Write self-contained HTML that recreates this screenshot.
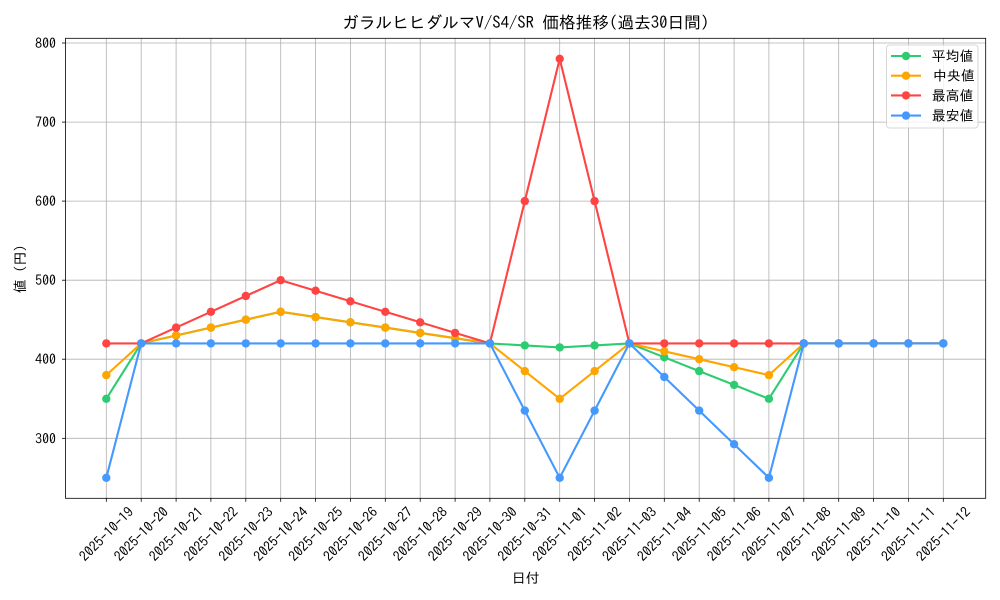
<!DOCTYPE html>
<html><head><meta charset="utf-8"><style>
html,body{margin:0;padding:0;background:#fff;}
svg{display:block;}
text{font-family:"IPAGothic","Liberation Sans","Noto Sans CJK JP",sans-serif;fill:#000;}
</style></head><body>
<svg width="1000" height="600" viewBox="0 0 1000 600" xmlns="http://www.w3.org/2000/svg">
<defs>
<marker id="mg" markerUnits="userSpaceOnUse" markerWidth="10" markerHeight="10" refX="5" refY="5"><circle cx="5" cy="5" r="4.2" fill="#2ecc71"/></marker>
<marker id="mo" markerUnits="userSpaceOnUse" markerWidth="10" markerHeight="10" refX="5" refY="5"><circle cx="5" cy="5" r="4.2" fill="#ffa500"/></marker>
<marker id="mr" markerUnits="userSpaceOnUse" markerWidth="10" markerHeight="10" refX="5" refY="5"><circle cx="5" cy="5" r="4.2" fill="#ff4444"/></marker>
<marker id="mb" markerUnits="userSpaceOnUse" markerWidth="10" markerHeight="10" refX="5" refY="5"><circle cx="5" cy="5" r="4.2" fill="#4499ff"/></marker>
</defs>
<rect width="1000" height="600" fill="#fff"/>
<!-- grid -->
<g stroke="#b0b0b0" stroke-width="0.8">
<line x1="106.3" y1="38.3" x2="106.3" y2="498.3"/>
<line x1="141.2" y1="38.3" x2="141.2" y2="498.3"/>
<line x1="176.1" y1="38.3" x2="176.1" y2="498.3"/>
<line x1="210.9" y1="38.3" x2="210.9" y2="498.3"/>
<line x1="245.8" y1="38.3" x2="245.8" y2="498.3"/>
<line x1="280.7" y1="38.3" x2="280.7" y2="498.3"/>
<line x1="315.6" y1="38.3" x2="315.6" y2="498.3"/>
<line x1="350.4" y1="38.3" x2="350.4" y2="498.3"/>
<line x1="385.3" y1="38.3" x2="385.3" y2="498.3"/>
<line x1="420.2" y1="38.3" x2="420.2" y2="498.3"/>
<line x1="455.1" y1="38.3" x2="455.1" y2="498.3"/>
<line x1="489.9" y1="38.3" x2="489.9" y2="498.3"/>
<line x1="524.8" y1="38.3" x2="524.8" y2="498.3"/>
<line x1="559.7" y1="38.3" x2="559.7" y2="498.3"/>
<line x1="594.6" y1="38.3" x2="594.6" y2="498.3"/>
<line x1="629.4" y1="38.3" x2="629.4" y2="498.3"/>
<line x1="664.3" y1="38.3" x2="664.3" y2="498.3"/>
<line x1="699.2" y1="38.3" x2="699.2" y2="498.3"/>
<line x1="734.1" y1="38.3" x2="734.1" y2="498.3"/>
<line x1="768.9" y1="38.3" x2="768.9" y2="498.3"/>
<line x1="803.8" y1="38.3" x2="803.8" y2="498.3"/>
<line x1="838.7" y1="38.3" x2="838.7" y2="498.3"/>
<line x1="873.6" y1="38.3" x2="873.6" y2="498.3"/>
<line x1="908.4" y1="38.3" x2="908.4" y2="498.3"/>
<line x1="943.3" y1="38.3" x2="943.3" y2="498.3"/>
<line x1="65.5" y1="438.3" x2="985.7" y2="438.3"/>
<line x1="65.5" y1="359.2" x2="985.7" y2="359.2"/>
<line x1="65.5" y1="280.2" x2="985.7" y2="280.2"/>
<line x1="65.5" y1="201.1" x2="985.7" y2="201.1"/>
<line x1="65.5" y1="122.1" x2="985.7" y2="122.1"/>
<line x1="65.5" y1="43.0" x2="985.7" y2="43.0"/>
</g>
<!-- series -->
<g fill="none" stroke-width="2.1" stroke-linejoin="round">
<polyline stroke="#2ecc71" marker-start="url(#mg)" marker-mid="url(#mg)" marker-end="url(#mg)" points="106.3,398.8 141.2,343.4 176.1,335.5 210.9,327.6 245.8,319.7 280.7,311.8 315.6,317.1 350.4,322.3 385.3,327.6 420.2,332.9 455.1,338.2 489.9,343.4 524.8,345.4 559.7,347.4 594.6,345.4 629.4,343.4 664.3,357.3 699.2,371.1 734.1,384.9 768.9,398.8 803.8,343.4 838.7,343.4 873.6,343.4 908.4,343.4 943.3,343.4"/>
<polyline stroke="#ffa500" marker-start="url(#mo)" marker-mid="url(#mo)" marker-end="url(#mo)" points="106.3,375.1 141.2,343.4 176.1,335.5 210.9,327.6 245.8,319.7 280.7,311.8 315.6,317.1 350.4,322.3 385.3,327.6 420.2,332.9 455.1,338.2 489.9,343.4 524.8,371.1 559.7,398.8 594.6,371.1 629.4,343.4 664.3,351.3 699.2,359.2 734.1,367.2 768.9,375.1 803.8,343.4 838.7,343.4 873.6,343.4 908.4,343.4 943.3,343.4"/>
<polyline stroke="#ff4444" marker-start="url(#mr)" marker-mid="url(#mr)" marker-end="url(#mr)" points="106.3,343.4 141.2,343.4 176.1,327.6 210.9,311.8 245.8,296.0 280.7,280.2 315.6,290.7 350.4,301.3 385.3,311.8 420.2,322.3 455.1,332.9 489.9,343.4 524.8,201.1 559.7,58.8 594.6,201.1 629.4,343.4 664.3,343.4 699.2,343.4 734.1,343.4 768.9,343.4 803.8,343.4 838.7,343.4 873.6,343.4 908.4,343.4 943.3,343.4"/>
<polyline stroke="#4499ff" marker-start="url(#mb)" marker-mid="url(#mb)" marker-end="url(#mb)" points="106.3,477.8 141.2,343.4 176.1,343.4 210.9,343.4 245.8,343.4 280.7,343.4 315.6,343.4 350.4,343.4 385.3,343.4 420.2,343.4 455.1,343.4 489.9,343.4 524.8,410.6 559.7,477.8 594.6,410.6 629.4,343.4 664.3,377.0 699.2,410.6 734.1,444.2 768.9,477.8 803.8,343.4 838.7,343.4 873.6,343.4 908.4,343.4 943.3,343.4"/>
</g>
<!-- axes frame -->
<rect x="65.5" y="38.3" width="920.2" height="460" fill="none" stroke="#000" stroke-width="0.8"/>
<!-- ticks -->
<g stroke="#000" stroke-width="0.8">
<line x1="62" y1="438.3" x2="65.5" y2="438.3"/>
<line x1="62" y1="359.2" x2="65.5" y2="359.2"/>
<line x1="62" y1="280.2" x2="65.5" y2="280.2"/>
<line x1="62" y1="201.1" x2="65.5" y2="201.1"/>
<line x1="62" y1="122.1" x2="65.5" y2="122.1"/>
<line x1="62" y1="43.0" x2="65.5" y2="43.0"/>
<line x1="106.3" y1="498.3" x2="106.3" y2="501.8"/>
<line x1="141.2" y1="498.3" x2="141.2" y2="501.8"/>
<line x1="176.1" y1="498.3" x2="176.1" y2="501.8"/>
<line x1="210.9" y1="498.3" x2="210.9" y2="501.8"/>
<line x1="245.8" y1="498.3" x2="245.8" y2="501.8"/>
<line x1="280.7" y1="498.3" x2="280.7" y2="501.8"/>
<line x1="315.6" y1="498.3" x2="315.6" y2="501.8"/>
<line x1="350.4" y1="498.3" x2="350.4" y2="501.8"/>
<line x1="385.3" y1="498.3" x2="385.3" y2="501.8"/>
<line x1="420.2" y1="498.3" x2="420.2" y2="501.8"/>
<line x1="455.1" y1="498.3" x2="455.1" y2="501.8"/>
<line x1="489.9" y1="498.3" x2="489.9" y2="501.8"/>
<line x1="524.8" y1="498.3" x2="524.8" y2="501.8"/>
<line x1="559.7" y1="498.3" x2="559.7" y2="501.8"/>
<line x1="594.6" y1="498.3" x2="594.6" y2="501.8"/>
<line x1="629.4" y1="498.3" x2="629.4" y2="501.8"/>
<line x1="664.3" y1="498.3" x2="664.3" y2="501.8"/>
<line x1="699.2" y1="498.3" x2="699.2" y2="501.8"/>
<line x1="734.1" y1="498.3" x2="734.1" y2="501.8"/>
<line x1="768.9" y1="498.3" x2="768.9" y2="501.8"/>
<line x1="803.8" y1="498.3" x2="803.8" y2="501.8"/>
<line x1="838.7" y1="498.3" x2="838.7" y2="501.8"/>
<line x1="873.6" y1="498.3" x2="873.6" y2="501.8"/>
<line x1="908.4" y1="498.3" x2="908.4" y2="501.8"/>
<line x1="943.3" y1="498.3" x2="943.3" y2="501.8"/>
</g>
<!-- y tick labels -->
<g font-size="13.9" text-anchor="end" dominant-baseline="central">
<text x="56" y="438.3">300</text>
<text x="56" y="359.2">400</text>
<text x="56" y="280.2">500</text>
<text x="56" y="201.1">600</text>
<text x="56" y="122.1">700</text>
<text x="56" y="43.0">800</text>
</g>
<!-- x tick labels -->
<g font-size="13.9" text-anchor="middle" dominant-baseline="central">
<text transform="translate(106.3,534) rotate(-45)">2025-10-19</text>
<text transform="translate(141.2,534) rotate(-45)">2025-10-20</text>
<text transform="translate(176.1,534) rotate(-45)">2025-10-21</text>
<text transform="translate(210.9,534) rotate(-45)">2025-10-22</text>
<text transform="translate(245.8,534) rotate(-45)">2025-10-23</text>
<text transform="translate(280.7,534) rotate(-45)">2025-10-24</text>
<text transform="translate(315.6,534) rotate(-45)">2025-10-25</text>
<text transform="translate(350.4,534) rotate(-45)">2025-10-26</text>
<text transform="translate(385.3,534) rotate(-45)">2025-10-27</text>
<text transform="translate(420.2,534) rotate(-45)">2025-10-28</text>
<text transform="translate(455.1,534) rotate(-45)">2025-10-29</text>
<text transform="translate(489.9,534) rotate(-45)">2025-10-30</text>
<text transform="translate(524.8,534) rotate(-45)">2025-10-31</text>
<text transform="translate(559.7,534) rotate(-45)">2025-11-01</text>
<text transform="translate(594.6,534) rotate(-45)">2025-11-02</text>
<text transform="translate(629.4,534) rotate(-45)">2025-11-03</text>
<text transform="translate(664.3,534) rotate(-45)">2025-11-04</text>
<text transform="translate(699.2,534) rotate(-45)">2025-11-05</text>
<text transform="translate(734.1,534) rotate(-45)">2025-11-06</text>
<text transform="translate(768.9,534) rotate(-45)">2025-11-07</text>
<text transform="translate(803.8,534) rotate(-45)">2025-11-08</text>
<text transform="translate(838.7,534) rotate(-45)">2025-11-09</text>
<text transform="translate(873.6,534) rotate(-45)">2025-11-10</text>
<text transform="translate(908.4,534) rotate(-45)">2025-11-11</text>
<text transform="translate(943.3,534) rotate(-45)">2025-11-12</text>
</g>
<!-- titles -->
<text x="525.6" y="23" font-size="16.7" text-anchor="middle" dominant-baseline="central">ガラルヒヒダルマV/S4/SR 価格推移(過去30日間)</text>
<text x="525.7" y="578" font-size="13.9" text-anchor="middle" dominant-baseline="central">日付</text>
<text transform="translate(20,269) rotate(-90)" font-size="13.9" text-anchor="middle" dominant-baseline="central">値 (円)</text>
<!-- legend -->
<rect x="886.5" y="45" width="91.5" height="83" rx="3" ry="3" fill="#fff" fill-opacity="0.8" stroke="#cccccc" stroke-width="0.8"/>
<g stroke-width="2.1">
<line x1="891" y1="56" x2="921" y2="56" stroke="#2ecc71"/>
<circle cx="906" cy="56" r="4.2" fill="#2ecc71" stroke="none"/>
<line x1="891" y1="75.7" x2="921" y2="75.7" stroke="#ffa500"/>
<circle cx="906" cy="75.7" r="4.2" fill="#ffa500" stroke="none"/>
<line x1="891" y1="95.4" x2="921" y2="95.4" stroke="#ff4444"/>
<circle cx="906" cy="95.4" r="4.2" fill="#ff4444" stroke="none"/>
<line x1="891" y1="115.6" x2="921" y2="115.6" stroke="#4499ff"/>
<circle cx="906" cy="115.6" r="4.2" fill="#4499ff" stroke="none"/>
</g>
<g font-size="13.9" dominant-baseline="central">
<text x="931.7" y="56">平均値</text>
<text x="933" y="75.7">中央値</text>
<text x="931.7" y="95.4">最高値</text>
<text x="931.7" y="115.6">最安値</text>
</g>
</svg>
</body></html>
